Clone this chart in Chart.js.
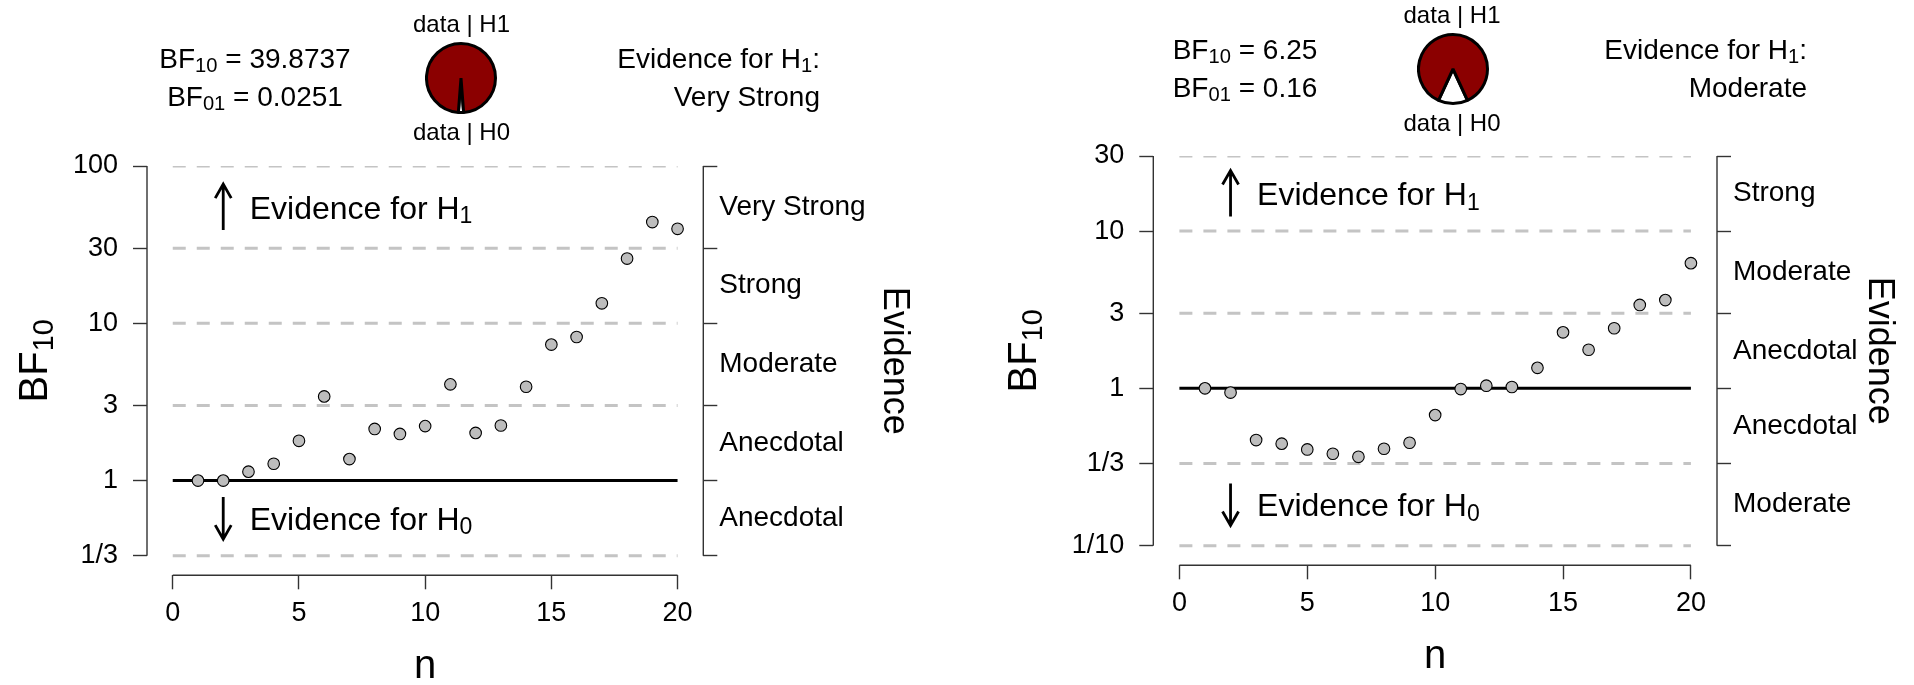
<!DOCTYPE html>
<html>
<head>
<meta charset="utf-8">
<title>Sequential Bayes factor</title>
<script src="https://cdn.jsdelivr.net/npm/chart.js@4.4.1/dist/chart.umd.min.js"></script>
<style>
    html, body { margin: 0; padding: 0; background: #fff; }
    #wrap { position: relative; width: 1914px; height: 685px; overflow: hidden; }
    #wrap canvas { position: absolute; }
</style>
</head>
<body>
<div id="wrap">
    <canvas id="seqLeft" width="957" height="685" style="left:0;top:0"></canvas>
    <canvas id="seqRight" width="957" height="685" style="left:957px;top:0"></canvas>
    <canvas id="pieLeft" width="72" height="72" style="left:425px;top:42px"></canvas>
    <canvas id="pieRight" width="72" height="72" style="left:1417px;top:33px"></canvas>
</div>
<script>
var nValues = [1, 2, 3, 4, 5, 6, 7, 8, 9, 10, 11, 12, 13, 14, 15, 16, 17, 18, 19, 20];
var nTicks = [0, 5, 10, 15, 20];

// first data set
var bfLeft = [1.0, 1.0, 1.14, 1.28, 1.79, 3.43, 1.37, 2.13, 1.98, 2.22, 4.09, 2.01, 2.24, 3.95, 7.32, 8.18, 13.4, 25.8, 44.0, 39.8737];
var bfLeftTicks = [1 / 3, 1, 3, 10, 30, 100];
var bfLeftTickLabels = ['1/3', '1', '3', '10', '30', '100'];
var evidenceLeft = ['Anecdotal', 'Anecdotal', 'Moderate', 'Strong', 'Very Strong'];
var summaryLeft = [39.8737, 0.0251];
var verdictLeft = 'Very Strong';

// second data set
var bfRight = [1.0, 0.94, 0.469, 0.445, 0.409, 0.384, 0.367, 0.413, 0.451, 0.676, 0.99, 1.04, 1.02, 1.35, 2.27, 1.76, 2.41, 3.39, 3.64, 6.25];
var bfRightTicks = [1 / 10, 1 / 3, 1, 3, 10, 30];
var bfRightTickLabels = ['1/10', '1/3', '1', '3', '10', '30'];
var evidenceRight = ['Moderate', 'Anecdotal', 'Anecdotal', 'Moderate', 'Strong'];
var summaryRight = [6.25, 0.16];
var verdictRight = 'Moderate';

var pieLabels = ['data | H0', 'data | H1'];

var FONT = "'Liberation Sans', Arial, sans-serif";
var AXIS = '#333';

Chart.defaults.font.family = FONT;
Chart.defaults.color = '#000';

function font(size) {
    return size + 'px ' + FONT;
}

// text made of runs, some of them subscripts
function drawRich(ctx, parts, x, y, size, align) {
    var subSize = size * 0.72;
    var width = 0;
    parts.forEach(function (p) {
        ctx.font = font(p.sub ? subSize : size);
        p.w = ctx.measureText(p.text).width;
        width += p.w;
    });
    var cx = align === 'center' ? x - width / 2 : (align === 'right' ? x - width : x);
    ctx.textAlign = 'left';
    ctx.textBaseline = 'alphabetic';
    parts.forEach(function (p) {
        ctx.font = font(p.sub ? subSize : size);
        ctx.fillText(p.text, cx, p.sub ? y + size * 0.15 : y);
        cx += p.w;
    });
}

function drawArrow(ctx, x, from, to) {
    var dir = to > from ? 1 : -1;
    ctx.beginPath();
    ctx.moveTo(x, from);
    ctx.lineTo(x, to);
    ctx.moveTo(x - 8, to - dir * 14);
    ctx.lineTo(x, to);
    ctx.lineTo(x + 8, to - dir * 14);
    ctx.stroke();
}

function decorPlugin(spec) {
    return {
        id: 'decor',
        afterDraw: function (chart) {
            var ctx = chart.ctx;
            var xs = chart.scales.x;
            var ys = chart.scales.y;
            var area = chart.chartArea;
            var t = spec.ticks;
            var top = ys.getPixelForValue(t[t.length - 1]);
            var bottom = ys.getPixelForValue(t[0]);
            var midY = (top + bottom) / 2;

            ctx.save();
            // axis lines only span the first to last tick
            ctx.strokeStyle = AXIS;
            ctx.lineWidth = 1.4;
            ctx.beginPath();
            ctx.moveTo(area.left, top);
            ctx.lineTo(area.left, bottom);
            ctx.moveTo(area.right, top);
            ctx.lineTo(area.right, bottom);
            ctx.moveTo(xs.getPixelForValue(nTicks[0]), area.bottom);
            ctx.lineTo(xs.getPixelForValue(nTicks[nTicks.length - 1]), area.bottom);
            ctx.stroke();

            // evidence arrows
            ctx.strokeStyle = '#000';
            ctx.fillStyle = '#000';
            ctx.lineWidth = 2.8;
            var ax = xs.getPixelForValue(2);
            var upMid = ys.getPixelForValue(Math.sqrt(t[t.length - 1] * t[t.length - 2]));
            var downMid = ys.getPixelForValue(Math.sqrt(t[0] * t[1]));
            drawArrow(ctx, ax, upMid + 23, upMid - 23);
            drawArrow(ctx, ax, downMid - 21, downMid + 21);
            drawRich(ctx, [{ text: 'Evidence for H' }, { text: '1', sub: true }], ax + 26.5, upMid + 11.5, 32, 'left');
            drawRich(ctx, [{ text: 'Evidence for H' }, { text: '0', sub: true }], ax + 26.5, downMid + 11.5, 32, 'left');

            // header
            drawRich(ctx, [{ text: 'BF' }, { text: '10', sub: true }, { text: ' = ' + spec.summary[0] }], spec.headX, spec.headY[0], 28, 'center');
            drawRich(ctx, [{ text: 'BF' }, { text: '01', sub: true }, { text: ' = ' + spec.summary[1] }], spec.headX, spec.headY[1], 28, 'center');
            drawRich(ctx, [{ text: 'Evidence for H' }, { text: '1', sub: true }, { text: ':' }], spec.verdictX, spec.headY[0], 28, 'right');
            drawRich(ctx, [{ text: spec.verdict }], spec.verdictX, spec.headY[1], 28, 'right');
            ctx.font = font(24);
            ctx.textAlign = 'center';
            ctx.fillText(pieLabels[1], spec.pieX, spec.pieLabelY[0]);
            ctx.fillText(pieLabels[0], spec.pieX, spec.pieLabelY[1]);

            // axis titles
            ctx.save();
            ctx.translate(spec.yTitleX, midY);
            ctx.rotate(-Math.PI / 2);
            drawRich(ctx, [{ text: 'BF' }, { text: '10', sub: true }], 0, 14, 40, 'center');
            ctx.restore();

            ctx.save();
            ctx.translate(spec.evTitleX, midY);
            ctx.rotate(Math.PI / 2);
            ctx.font = font(36);
            ctx.textAlign = 'center';
            ctx.textBaseline = 'middle';
            ctx.fillText('Evidence', 0, 0);
            ctx.restore();

            ctx.restore();
        }
    };
}

function buildPanel(canvasId, series, ticks, tickLabels, evidence, spec) {
    var last = ticks.length - 1;

    // boundaries carry tick marks, the geometric midpoints carry the evidence names
    var evTicks = [];
    var evLabels = [];
    ticks.forEach(function (v, i) {
        evTicks.push(v);
        evLabels.push('');
        if (i < last) {
            evTicks.push(Math.sqrt(v * ticks[i + 1]));
            evLabels.push(evidence[i]);
        }
    });

    var datasets = [{
        data: nValues.map(function (n, i) { return { x: n, y: series[i] }; }),
        backgroundColor: '#bdbdbd',
        borderColor: '#000',
        borderWidth: 1.1,
        pointRadius: 5.8,
        order: 0
    }];
    ticks.forEach(function (v) {
        var isOne = v === 1;
        datasets.push({
            data: [{ x: nTicks[0], y: v }, { x: nTicks[nTicks.length - 1], y: v }],
            showLine: true,
            borderColor: isOne ? '#000' : '#c4c4c4',
            borderWidth: 3,
            borderDash: isOne ? [] : [13, 11],
            pointRadius: 0,
            order: isOne ? 1 : 2
        });
    });

    var tickGrid = {
        drawOnChartArea: false,
        tickLength: 14,
        tickWidth: 1.4,
        tickColor: AXIS
    };

    return new Chart(document.getElementById(canvasId), {
        type: 'scatter',
        data: { datasets: datasets },
        options: {
            responsive: false,
            animation: false,
            events: [],
            layout: { padding: { top: spec.top, bottom: spec.bottom, left: 0, right: 0 } },
            plugins: { legend: { display: false }, tooltip: { enabled: false } },
            scales: {
                x: {
                    type: 'linear',
                    min: -1.02,
                    max: 21.02,
                    afterBuildTicks: function (scale) {
                        scale.ticks = nTicks.map(function (v) { return { value: v }; });
                    },
                    afterFit: function (scale) { scale.height = 109.7; },
                    border: { display: false },
                    grid: tickGrid,
                    ticks: { font: { size: 27 }, padding: 8, autoSkip: false, maxRotation: 0 },
                    title: { display: true, text: 'n', font: { size: 40, lineHeight: 1 }, padding: { top: 0, bottom: -2 } }
                },
                y: {
                    type: 'logarithmic',
                    position: 'left',
                    min: ticks[0] * 0.75,
                    max: ticks[last],
                    afterBuildTicks: function (scale) {
                        scale.ticks = ticks.map(function (v) { return { value: v }; });
                    },
                    afterFit: function (scale) { scale.width = spec.yWidth; },
                    border: { display: false },
                    grid: tickGrid,
                    ticks: {
                        font: { size: 27 },
                        padding: 15,
                        autoSkip: false,
                        callback: function (value, index) { return tickLabels[index]; }
                    }
                },
                y2: {
                    type: 'logarithmic',
                    position: 'right',
                    min: ticks[0] * 0.75,
                    max: ticks[last],
                    afterBuildTicks: function (scale) {
                        scale.ticks = evTicks.map(function (v) { return { value: v }; });
                    },
                    afterFit: function (scale) { scale.width = spec.y2Width; },
                    border: { display: false },
                    grid: {
                        drawOnChartArea: false,
                        tickLength: 14,
                        tickWidth: 1.4,
                        tickColor: function (ctx) { return ctx.index % 2 === 0 ? AXIS : 'rgba(0,0,0,0)'; }
                    },
                    ticks: {
                        font: { size: 28 },
                        padding: 2,
                        autoSkip: false,
                        callback: function (value, index) { return evLabels[index]; }
                    }
                }
            }
        },
        plugins: [decorPlugin(spec)]
    });
}

function buildPie(canvasId, bf10) {
    var values = [1, bf10];
    var h0Angle = 360 * values[0] / (values[0] + values[1]);
    return new Chart(document.getElementById(canvasId), {
        type: 'pie',
        data: {
            labels: pieLabels,
            datasets: [{
                data: values,
                backgroundColor: ['#ffffff', '#8b0000'],
                borderColor: '#000',
                borderWidth: 3
            }]
        },
        options: {
            responsive: false,
            animation: false,
            events: [],
            rotation: 180 - h0Angle / 2,
            plugins: { legend: { display: false }, tooltip: { enabled: false } }
        }
    });
}

buildPanel('seqLeft', bfLeft, bfLeftTicks, bfLeftTickLabels, evidenceLeft, {
    ticks: bfLeftTicks,
    summary: summaryLeft,
    verdict: verdictLeft,
    top: 166, bottom: 0,
    yWidth: 147, y2Width: 253.7,
    headX: 255, headY: [67.5, 105.5],
    verdictX: 820,
    pieX: 461.5, pieLabelY: [32, 140],
    yTitleX: 33, evTitleX: 894
});

buildPanel('seqRight', bfRight, bfRightTicks, bfRightTickLabels, evidenceRight, {
    ticks: bfRightTicks,
    summary: summaryRight,
    verdict: verdictRight,
    top: 156, bottom: 10,
    yWidth: 196.3, y2Width: 197,
    headX: 288, headY: [58.5, 96.5],
    verdictX: 850,
    pieX: 495, pieLabelY: [23, 131],
    yTitleX: 65, evTitleX: 922
});

buildPie('pieLeft', summaryLeft[0]);
buildPie('pieRight', summaryRight[0]);
</script>
</body>
</html>
